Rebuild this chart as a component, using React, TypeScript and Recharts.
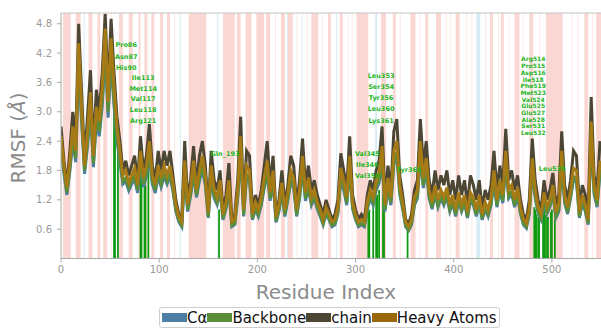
import {
  ComposedChart,
  Line,
  XAxis,
  YAxis,
  ReferenceArea,
  ReferenceDot,
  ReferenceLine,
} from 'recharts';

// RMSF per residue, sampled every 3 residues (index 0, 3, 6 ... 549)
const RES_STEP = 3;

const CA = [
  2.26, 1.73, 1.3, 1.78, 2.4, 1.97, 3.94, 2.78, 1.73, 2.3, 3.02, 1.87, 2.78, 2.5, 3.12, 4.22, 2.88, 4.03, 3.12, 2.4,
  1.97, 1.52, 1.58, 1.39, 1.52, 1.63, 1.34, 1.92, 1.46, 1.68, 2.06, 1.52, 1.34, 1.68, 1.46, 1.68, 1.52, 1.68, 1.37, 0.96,
  0.75, 0.65, 1.73, 0.96, 1.28, 1.73, 1.25, 1.58, 1.82, 1.49, 0.83, 1.65, 1.23, 1.1, 1.4, 0.79, 1.01, 1.39, 0.65, 0.69,
  1.23, 2.16, 0.86, 1.65, 1.57, 0.79, 1.01, 0.86, 1.09, 1.44, 1.73, 1.18, 1.57, 0.74, 0.96, 1.34, 0.86, 1.18, 1.57, 1.44,
  0.86, 1.23, 1.82, 1.18, 1.44, 1.09, 1.23, 1.01, 0.86, 0.69, 0.91, 0.79, 0.65, 0.69, 0.91, 1.61, 1.4, 1.09, 1.82, 1.01,
  0.79, 0.65, 0.69, 0.65, 1.01, 1.23, 1.09, 1.4, 1.54, 2.0, 0.96, 1.44, 1.09, 1.92, 2.09, 1.32, 1.01, 0.65, 0.57, 0.69,
  1.09, 1.23, 2.09, 1.44, 1.79, 1.23, 1.01, 1.32, 1.05, 1.23, 1.09, 1.27, 0.96, 1.13, 0.86, 1.18, 0.96, 1.13, 0.83, 1.18,
  1.09, 0.86, 1.13, 0.79, 1.01, 0.86, 1.09, 1.57, 1.05, 1.4, 1.13, 1.92, 1.23, 1.32, 1.05, 1.27, 0.91, 0.69, 0.62, 0.91,
  1.79, 1.23, 0.91, 0.79, 1.18, 0.91, 1.05, 1.32, 0.83, 0.96, 1.92, 1.13, 0.91, 1.23, 1.61, 1.57, 0.83, 1.13, 0.96, 0.69,
  2.45, 1.32, 1.05, 1.75,
];

const BACKBONE = [
  2.35, 1.8, 1.35, 1.85, 2.5, 2.05, 4.1, 2.9, 1.8, 2.4, 3.15, 1.95, 2.9, 2.6, 3.25, 4.4, 3.0, 4.2, 3.25, 2.5,
  2.05, 1.58, 1.65, 1.45, 1.58, 1.7, 1.4, 2.0, 1.52, 1.75, 2.15, 1.58, 1.4, 1.75, 1.52, 1.75, 1.58, 1.75, 1.43, 1.0,
  0.78, 0.68, 1.8, 1.0, 1.33, 1.8, 1.3, 1.65, 1.9, 1.55, 0.86, 1.72, 1.28, 1.15, 1.46, 0.82, 1.05, 1.45, 0.68, 0.72,
  1.28, 2.25, 0.9, 1.72, 1.64, 0.82, 1.05, 0.9, 1.14, 1.5, 1.8, 1.23, 1.64, 0.77, 1.0, 1.4, 0.9, 1.23, 1.64, 1.5,
  0.9, 1.28, 1.9, 1.23, 1.5, 1.14, 1.28, 1.05, 0.9, 0.72, 0.95, 0.82, 0.68, 0.72, 0.95, 1.68, 1.46, 1.14, 1.9, 1.05,
  0.82, 0.68, 0.72, 0.68, 1.05, 1.28, 1.14, 1.46, 1.6, 2.08, 1.0, 1.5, 1.14, 2.0, 2.18, 1.37, 1.05, 0.68, 0.59, 0.72,
  1.14, 1.28, 2.18, 1.5, 1.86, 1.28, 1.05, 1.37, 1.09, 1.28, 1.14, 1.32, 1.0, 1.18, 0.9, 1.23, 1.0, 1.18, 0.86, 1.23,
  1.14, 0.9, 1.18, 0.82, 1.05, 0.9, 1.14, 1.64, 1.09, 1.46, 1.18, 2.0, 1.28, 1.37, 1.09, 1.32, 0.95, 0.72, 0.65, 0.95,
  1.86, 1.28, 0.95, 0.82, 1.23, 0.95, 1.09, 1.37, 0.86, 1.0, 2.0, 1.18, 0.95, 1.28, 1.68, 1.64, 0.86, 1.18, 1.0, 0.72,
  2.55, 1.37, 1.09, 1.82,
];

const SIDE_CHAIN = [
  2.7, 2.0, 1.5, 2.2, 3.0, 2.4, 4.8, 3.4, 2.0, 2.9, 3.85, 2.2, 3.45, 3.0, 3.8, 5.0, 3.4, 4.9, 3.8, 2.9,
  2.4, 1.8, 2.0, 1.7, 1.9, 2.1, 1.6, 2.5, 1.8, 2.1, 2.75, 1.9, 1.6, 2.2, 1.8, 2.2, 1.9, 2.2, 1.7, 1.2,
  0.9, 0.8, 2.4, 1.2, 1.6, 2.3, 1.5, 2.1, 2.4, 1.9, 1.0, 2.2, 1.6, 1.4, 1.8, 1.0, 1.3, 1.95, 0.8, 0.9,
  1.6, 2.9, 1.1, 2.2, 2.1, 1.0, 1.3, 1.1, 1.4, 1.9, 2.4, 1.5, 2.1, 0.9, 1.2, 1.8, 1.1, 1.5, 2.1, 1.9,
  1.1, 1.6, 2.45, 1.5, 1.9, 1.4, 1.6, 1.3, 1.1, 0.9, 1.2, 1.0, 0.8, 0.9, 1.2, 2.15, 1.8, 1.4, 2.5, 1.3,
  1.0, 0.8, 0.9, 0.8, 1.3, 1.6, 1.4, 1.8, 2.0, 2.7, 1.2, 1.9, 1.4, 2.6, 2.85, 1.7, 1.3, 0.8, 0.7, 0.9,
  1.4, 1.6, 2.85, 1.9, 2.4, 1.6, 1.3, 1.8, 1.4, 1.7, 1.5, 1.8, 1.3, 1.6, 1.2, 1.7, 1.3, 1.6, 1.1, 1.7,
  1.5, 1.2, 1.6, 1.0, 1.4, 1.2, 1.5, 2.2, 1.4, 1.9, 1.5, 2.65, 1.6, 1.8, 1.4, 1.7, 1.2, 0.9, 0.8, 1.2,
  2.45, 1.6, 1.2, 1.0, 1.6, 1.2, 1.4, 1.75, 1.1, 1.3, 2.6, 1.5, 1.2, 1.6, 2.2, 2.1, 1.1, 1.5, 1.3, 0.9,
  3.3, 1.7, 1.4, 2.4,
];

const HEAVY_ATOMS = [
  2.5, 1.9, 1.45, 2.0, 2.7, 2.2, 4.4, 3.1, 1.9, 2.6, 3.4, 2.1, 3.1, 2.8, 3.5, 4.7, 3.2, 4.5, 3.5, 2.7,
  2.2, 1.7, 1.8, 1.55, 1.7, 1.85, 1.5, 2.2, 1.65, 1.9, 2.4, 1.7, 1.5, 1.9, 1.65, 1.9, 1.7, 1.9, 1.55, 1.1,
  0.85, 0.75, 2.0, 1.1, 1.45, 2.0, 1.4, 1.8, 2.1, 1.7, 0.95, 1.9, 1.4, 1.25, 1.6, 0.9, 1.15, 1.6, 0.75, 0.8,
  1.4, 2.5, 1.0, 1.9, 1.8, 0.9, 1.15, 1.0, 1.25, 1.65, 2.0, 1.35, 1.8, 0.85, 1.1, 1.55, 1.0, 1.35, 1.8, 1.65,
  1.0, 1.4, 2.1, 1.35, 1.65, 1.25, 1.4, 1.15, 1.0, 0.8, 1.05, 0.9, 0.75, 0.8, 1.05, 1.85, 1.6, 1.25, 2.1, 1.15,
  0.9, 0.75, 0.8, 0.75, 1.15, 1.4, 1.25, 1.6, 1.75, 2.3, 1.1, 1.65, 1.25, 2.2, 2.4, 1.5, 1.15, 0.75, 0.65, 0.8,
  1.25, 1.4, 2.4, 1.65, 2.05, 1.4, 1.15, 1.5, 1.2, 1.4, 1.25, 1.45, 1.1, 1.3, 1.0, 1.35, 1.1, 1.3, 0.95, 1.35,
  1.25, 1.0, 1.3, 0.9, 1.15, 1.0, 1.25, 1.8, 1.2, 1.6, 1.3, 2.2, 1.4, 1.5, 1.2, 1.45, 1.05, 0.8, 0.72, 1.05,
  2.05, 1.4, 1.05, 0.9, 1.35, 1.05, 1.2, 1.5, 0.95, 1.1, 2.2, 1.3, 1.05, 1.4, 1.85, 1.8, 0.95, 1.3, 1.1, 0.8,
  2.8, 1.5, 1.2, 2.0,
];

// secondary structure (residue ranges)
const HELIX: [number, number][] = [
  [2, 10], [15, 20], [28, 32], [37, 40], [43, 47], [59, 63], [69, 73], [79, 81], [85, 88], [92, 95],
  [101, 104], [108, 111], [130, 148], [165, 177], [179, 183], [188, 194], [199, 207], [209, 213],
  [224, 228], [231, 236], [255, 262], [272, 275], [284, 287], [301, 313], [326, 331], [338, 341],
  [356, 361], [371, 374], [382, 387], [402, 406], [437, 440], [448, 451], [462, 467], [477, 481],
  [494, 511], [533, 537], [545, 550],
];
const STRAND: [number, number][] = [
  [23, 24], [121, 122], [159, 160], [230, 231], [245, 246], [280, 281], [320, 322], [423, 427],
];
const TURN: [number, number][] = [
  [51, 52], [115, 116], [218, 219], [240, 241], [250, 251], [266, 267], [292, 293], [296, 297],
  [345, 346], [365, 366], [392, 393], [396, 397], [412, 413], [418, 419], [432, 433], [445, 446],
  [456, 457], [470, 471], [487, 488], [520, 521], [526, 527], [541, 542],
];

// ligand contacts: residue index and bar height
const CONTACTS = [
  54, 55, 58, 81, 82, 85, 86, 89, 161, 313, 314, 318, 321, 322, 324, 328, 329, 353,
  482, 483, 484, 486, 487, 491, 492, 493, 495, 496, 499, 500, 503,
];
const CONTACT_HEIGHT = [
  3.5, 3.3, 2.5, 1.7, 1.6, 1.5, 1.5, 1.8, 1.0, 0.95, 1.0, 1.05, 1.25, 1.3, 1.4, 1.3, 1.0, 0.62,
  1.05, 1.0, 0.9, 0.85, 0.8, 0.95, 1.0, 0.9, 0.85, 0.85, 0.95, 1.0, 0.8,
];

// contact labels: text, residue x, value y
const LABELS: { text: string; x: number; y: number; small?: boolean }[] = [
  { text: 'Pro86', x: 66.4, y: 4.37 },
  { text: 'Asn87', x: 66.4, y: 4.12 },
  { text: 'His90', x: 66.4, y: 3.9 },
  { text: 'Ile113', x: 83.7, y: 3.69 },
  { text: 'Met114', x: 83.7, y: 3.47 },
  { text: 'Val117', x: 83.7, y: 3.26 },
  { text: 'Leu118', x: 83.7, y: 3.04 },
  { text: 'Arg121', x: 83.7, y: 2.81 },
  { text: 'Gln_193', x: 167, y: 2.14 },
  { text: 'Val345', x: 312, y: 2.14 },
  { text: 'Ile346', x: 312, y: 1.92 },
  { text: 'Val350', x: 312, y: 1.68 },
  { text: 'Leu353', x: 326, y: 3.73 },
  { text: 'Ser354', x: 326, y: 3.51 },
  { text: 'Tyr356', x: 326, y: 3.28 },
  { text: 'Leu360', x: 326, y: 3.06 },
  { text: 'Lys361', x: 326, y: 2.81 },
  { text: 'Tyr366', x: 354.6, y: 1.81 },
  { text: 'Arg514', x: 481, y: 4.08, small: true },
  { text: 'Pro515', x: 481, y: 3.94, small: true },
  { text: 'Asp516', x: 481, y: 3.8, small: true },
  { text: 'Ile518', x: 481, y: 3.67, small: true },
  { text: 'Phe519', x: 481, y: 3.53, small: true },
  { text: 'Met523', x: 481, y: 3.39, small: true },
  { text: 'Val524', x: 481, y: 3.26, small: true },
  { text: 'Glu525', x: 481, y: 3.12, small: true },
  { text: 'Glu527', x: 481, y: 2.98, small: true },
  { text: 'Ala528', x: 481, y: 2.85, small: true },
  { text: 'Ser531', x: 481, y: 2.71, small: true },
  { text: 'Leu532', x: 481, y: 2.57, small: true },
  { text: 'Leu535', x: 500.3, y: 1.83 },
];

const X_TICKS = [0, 100, 200, 300, 400, 500];
const Y_TICKS = [0.6, 1.2, 1.8, 2.4, 3.0, 3.6, 4.2, 4.8];
const Y_MAX = 5.02;

const COLORS = {
  ca: '#4d7ea3',
  backbone: '#5a8f37',
  sideChain: '#4b4734',
  heavy: '#a67a14',
  helix: '#fad7d2',
  strand: '#d7ecf3',
  turn: '#fde8e5',
  contact: '#109a10',
  label: '#1fb51f',
};

const data = SIDE_CHAIN.map((_, i) => ({
  res: i * RES_STEP,
  ca: CA[i],
  backbone: BACKBONE[i],
  sideChain: SIDE_CHAIN[i],
  heavy: HEAVY_ATOMS[i],
}));

const legendItems = [
  { name: 'Cα', color: COLORS.ca },
  { name: 'Backbone', color: COLORS.backbone },
  { name: 'chain', color: COLORS.sideChain },
  { name: 'Heavy Atoms', color: '#9a6808' },
];

export default function App() {
  return (
    <div
      style={{
        position: 'absolute',
        left: 0,
        top: 0,
        width: 601,
        height: 329,
        overflow: 'hidden',
        background: '#fff',
        fontFamily: '"DejaVu Sans", sans-serif',
      }}
    >
      <ComposedChart
        width={601}
        height={329}
        data={data}
        margin={{ top: 13, right: 0, bottom: 45.5, left: 0 }}
      >
        {HELIX.map(([a, b], i) => (
          <ReferenceArea key={'h' + i} x1={a} x2={b} fill={COLORS.helix} fillOpacity={1} stroke="none" />
        ))}
        {TURN.map(([a, b], i) => (
          <ReferenceArea key={'t' + i} x1={a} x2={b} fill={COLORS.turn} fillOpacity={1} stroke="none" />
        ))}
        {STRAND.map(([a, b], i) => (
          <ReferenceArea key={'s' + i} x1={a} x2={b} fill={COLORS.strand} fillOpacity={1} stroke="none" />
        ))}
        {CONTACTS.map((r, i) => (
          <ReferenceArea
            key={'c' + i}
            x1={r - 0.9}
            x2={r + 0.9}
            y1={0}
            y2={CONTACT_HEIGHT[i]}
            fill={COLORS.contact}
            fillOpacity={1}
            stroke="none"
          />
        ))}
        <ReferenceLine y={Y_MAX} stroke="#c4c4c4" strokeWidth={1} />
        <XAxis
          type="number"
          dataKey="res"
          domain={[0, 550]}
          ticks={X_TICKS}
          allowDataOverflow
          height={25}
          tickSize={4}
          tickMargin={3}
          tick={{ fill: '#9a9a9a', fontSize: 10 }}
          axisLine={{ stroke: '#a8a8a8' }}
          tickLine={{ stroke: '#a8a8a8' }}
        />
        <YAxis
          type="number"
          domain={[0, Y_MAX]}
          ticks={Y_TICKS}
          allowDataOverflow
          width={61}
          tickSize={4}
          tickMargin={5}
          tickFormatter={(v: number) => v.toFixed(1)}
          tick={{ fill: '#9a9a9a', fontSize: 10 }}
          axisLine={{ stroke: '#a8a8a8' }}
          tickLine={{ stroke: '#a8a8a8' }}
        />
        <Line type="linear" dataKey="ca" stroke={COLORS.ca} strokeWidth={3} dot={false} isAnimationActive={false} />
        <Line type="linear" dataKey="backbone" stroke={COLORS.backbone} strokeWidth={3} dot={false} isAnimationActive={false} />
        <Line type="linear" dataKey="sideChain" stroke={COLORS.sideChain} strokeWidth={3} dot={false} isAnimationActive={false} />
        <Line type="linear" dataKey="heavy" stroke={COLORS.heavy} strokeWidth={3} dot={false} isAnimationActive={false} />
        {LABELS.map((l, i) => (
          <ReferenceDot
            key={'l' + i}
            x={l.x}
            y={l.y}
            r={0}
            ifOverflow="visible"
            shape={(p: any) => (
              <text
                x={p.cx}
                y={p.cy}
                textAnchor="middle"
                dominantBaseline="central"
                fill={COLORS.label}
                fontSize={l.small ? 6 : 6.5}
                fontWeight="bold"
              >
                {l.text}
              </text>
            )}
          />
        ))}
      </ComposedChart>

      <div
        style={{
          position: 'absolute',
          left: 18,
          top: 138,
          transform: 'translate(-50%, -50%) rotate(-90deg)',
          fontSize: 20,
          color: '#8a8a8a',
          whiteSpace: 'nowrap',
        }}
      >
        RMSF (<i>Å</i>)
      </div>

      <div
        style={{
          position: 'absolute',
          left: 326,
          top: 280,
          transform: 'translateX(-50%)',
          fontSize: 20,
          color: '#8c8c8c',
          whiteSpace: 'nowrap',
        }}
      >
        Residue Index
      </div>

      <div
        style={{
          position: 'absolute',
          left: 159,
          top: 307,
          height: 19,
          border: '1px solid #cfcfcf',
          borderRadius: 3,
          display: 'flex',
          alignItems: 'center',
          padding: '0 2px',
          fontSize: 15,
          color: '#111',
          background: '#fff',
          whiteSpace: 'nowrap',
        }}
      >
        {legendItems.map((it) => (
          <span key={it.name} style={{ display: 'flex', alignItems: 'center' }}>
            <span style={{ width: 25, height: 9, background: it.color, display: 'inline-block' }} />
            <span>{it.name}</span>
          </span>
        ))}
      </div>
    </div>
  );
}
